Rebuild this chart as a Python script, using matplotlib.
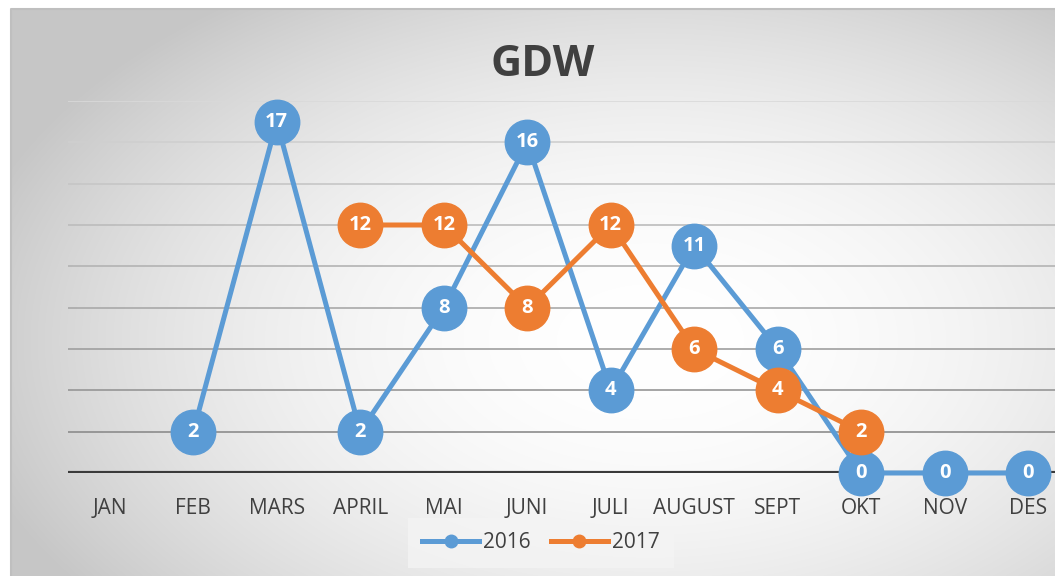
import numpy as np
import matplotlib.pyplot as plt
from matplotlib.lines import Line2D

plt.rcParams['font.family'] = ['Open Sans', 'DejaVu Sans']

months = ["JAN", "FEB", "MARS", "APRIL", "MAI", "JUNI", "JULI", "AUGUST", "SEPT", "OKT", "NOV", "DES"]
gdw_2016 = [np.nan, 2, 17, 2, 8, 16, 4, 11, 6, 0, 0, 0]
gdw_2017 = [np.nan, np.nan, np.nan, 12, 12, 8, 12, 6, 4, 2, np.nan, np.nan]

blue = '#5B9BD5'
orange = '#ED7D31'
W, H = 1055, 576

fig = plt.figure(figsize=(W / 100, H / 100), dpi=100)

# background: radial grey gradient in the chart area
bg = fig.add_axes([0, 0, 1, 1])
yy, xx = np.mgrid[0:H, 0:W]
d2 = ((xx - 650) / 700.0) ** 2 + ((yy - 340) / 420.0) ** 2
img = 1 - 0.22 * np.clip(d2, 0, 1)
img[(xx < 11) | (yy < 9)] = 1.0
bg.imshow(np.dstack([img, img, img]), extent=[0, W, H, 0], aspect='auto')
bg.plot([11, 11, W], [H, 9, 9], color='#bfbfbf', lw=1.5)
bg.set_xlim(0, W)
bg.set_ylim(H, 0)
bg.axis('off')

ax = fig.add_axes([68 / W, 103 / H, 1002 / W, 372 / H])
ax.patch.set_alpha(0)
x = np.arange(len(months))
ax.set_xlim(-0.5, 11.5)
ax.set_ylim(0, 18)

# horizontal gridlines, darker towards the bottom
for g in range(2, 19, 2):
    shade = 0.55 + 0.30 * (g - 2) / 16
    ax.axhline(g, color=str(shade), lw=1.2, zorder=1)
ax.axhline(0, color='#3a3a3a', lw=3, zorder=2)

for vals, col in [(gdw_2016, blue), (gdw_2017, orange)]:
    ax.plot(x, vals, color=col, lw=3.6, marker='o', markersize=32,
            clip_on=False, zorder=3)

for vals in [gdw_2016, gdw_2017]:
    for i, v in enumerate(vals):
        if not np.isnan(v):
            ax.text(i, v, str(int(v)), ha='center', va='center', color='white',
                    fontsize=14.5, fontweight='bold', zorder=5)

ax.set_xticks(x, months)
ax.tick_params(axis='x', length=0, pad=18, labelsize=15, labelcolor='#404040')
ax.set_yticks([])
for s in ax.spines.values():
    s.set_visible(False)

fig.text(543 / W, 1 - 65 / H, 'GDW', ha='center', va='center', fontsize=31,
         fontweight='bold', color='#404040')

handles = [Line2D([], [], color=blue, lw=3.6, marker='o', markersize=9),
           Line2D([], [], color=orange, lw=3.6, marker='o', markersize=9)]
leg = fig.legend(handles, ['2016', '2017'], loc='center', ncol=2,
                 bbox_to_anchor=(541 / W, 1 - 543 / H), frameon=True,
                 fontsize=15, handlelength=2.7, columnspacing=1.0,
                 handletextpad=0.2, borderpad=0.4)
leg.get_frame().set_facecolor('#f4f4f4')
leg.get_frame().set_edgecolor('none')
leg.get_frame().set_boxstyle('square')
for t in leg.get_texts():
    t.set_color('#404040')

fig.savefig('out.png', dpi=100)
